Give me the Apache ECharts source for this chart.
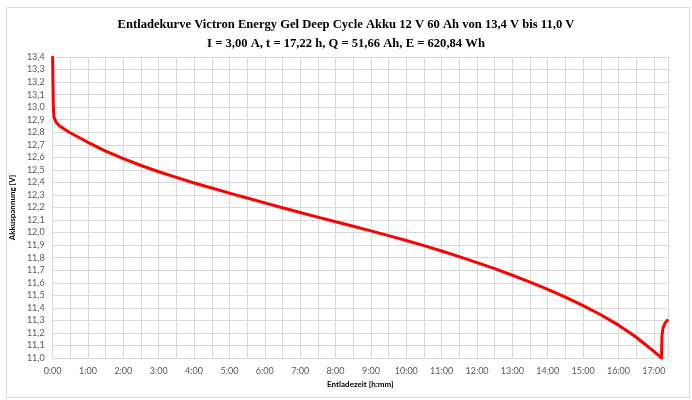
<!DOCTYPE html>
<html lang="de">
<head>
    <meta charset="UTF-8">
    <title>Entladekurve Victron Energy Gel Deep Cycle Akku 12 V 60 Ah</title>
    <script src="https://cdn.jsdelivr.net/npm/echarts@6/dist/echarts.min.js"></script>
    <style>
        body { margin: 0; background-color: #ffffff; }
        #chart { width: 692px; height: 400px; }
    </style>
</head>
<body>
<div id="chart"></div>
<script>
// Entladezeit in Stunden
var hours = [0, 0.01, 0.02, 0.04, 0.1, 0.2, 0.47, 1.0, 1.5, 2.0, 2.5, 3.0, 3.5, 4.0, 4.5,
    5.0, 5.5, 6.0, 6.5, 7.0, 7.5, 8.0, 8.5, 9.0, 9.5, 10.0, 10.5, 11.0, 11.5, 12.0,
    12.5, 13.0, 13.5, 14.0, 14.5, 15.0, 15.5, 16.0, 16.25, 16.5, 16.75, 17.0, 17.22,
    17.22, 17.23, 17.26, 17.32, 17.38];
// Akkuspannung in V
var volts = [13.40, 13.20, 13.00, 12.92, 12.88, 12.85, 12.80, 12.72, 12.65, 12.59, 12.535, 12.485, 12.44, 12.395, 12.355,
    12.315, 12.276, 12.237, 12.198, 12.16, 12.123, 12.087, 12.051, 12.014, 11.976, 11.937, 11.896, 11.853, 11.808, 11.761,
    11.712, 11.66, 11.605, 11.547, 11.485, 11.418, 11.345, 11.262, 11.215, 11.165, 11.11, 11.053, 11.00,
    11.05, 11.18, 11.24, 11.28, 11.30];

var titleLines = [
    'Entladekurve Victron Energy Gel Deep Cycle Akku 12 V 60 Ah von 13,4 V bis 11,0 V',
    'I = 3,00 A, t = 17,22 h, Q = 51,66 Ah, E = 620,84 Wh'
];

var chart = echarts.init(document.getElementById('chart'));

var gridColor = '#d9d9d9';
var labelColor = '#595959';

var option = {
    backgroundColor: '#ffffff',
    animation: false,
    title: {
        text: titleLines.join('\n'),
        left: 'center',
        top: 10,
        textStyle: {
            fontFamily: 'Liberation Serif',
            fontWeight: 'bold',
            fontSize: 12.6,
            lineHeight: 19,
            color: '#000000'
        }
    },
    graphic: [{
        type: 'rect',
        left: 4,
        top: 5,
        shape: { width: 683, height: 390 },
        style: { fill: 'none', stroke: gridColor, lineWidth: 1 }
    }],
    grid: { left: 50, right: 24, top: 57, bottom: 42 },
    xAxis: {
        type: 'value',
        min: 0,
        max: 17.4,
        interval: 0.5,
        name: 'Entladezeit [h:mm]',
        nameLocation: 'middle',
        nameGap: 21,
        nameTextStyle: { fontFamily: 'Lato', fontWeight: 'bold', fontSize: 8, color: '#000000' },
        axisLine: { show: false },
        axisTick: { show: false },
        axisLabel: {
            fontFamily: 'Lato',
            fontSize: 9,
            color: labelColor,
            margin: 9,
            showMaxLabel: false,
            formatter: function (v) {
                if (Math.abs(v - Math.round(v)) > 1e-6) return '';
                return Math.round(v) + ':00';
            }
        },
        splitLine: { show: true, lineStyle: { color: gridColor, width: 1 } }
    },
    yAxis: {
        type: 'value',
        min: 11,
        max: 13.4,
        interval: 0.1,
        name: 'Akkuspannung [V]',
        nameLocation: 'middle',
        nameRotate: 90,
        nameGap: 26,
        nameTextStyle: { fontFamily: 'Lato', fontWeight: 'bold', fontSize: 8, color: '#000000' },
        axisLine: { show: false },
        axisTick: { show: false },
        axisLabel: {
            fontFamily: 'Lato',
            fontSize: 9,
            color: labelColor,
            margin: 8,
            formatter: function (v) { return v.toFixed(1).replace('.', ','); }
        },
        splitLine: { show: true, lineStyle: { color: gridColor, width: 1 } }
    },
    series: [{
        type: 'line',
        data: hours.map(function (h, i) { return [h, volts[i]]; }),
        showSymbol: false,
        smooth: false,
        lineStyle: { color: '#ff0000', width: 3, join: 'round', cap: 'round' }
    }]
};

chart.setOption(option);
</script>
</body>
</html>
